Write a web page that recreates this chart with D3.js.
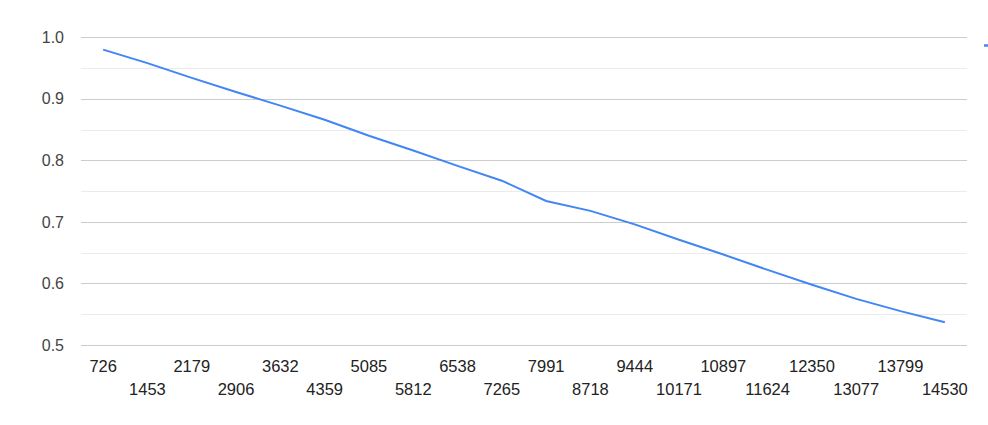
<!DOCTYPE html>
<html>
<head>
<meta charset="utf-8">
<script src="https://cdn.jsdelivr.net/npm/d3@7"></script>
<style>
html,body{margin:0;padding:0;background:#fff;}
svg{display:block;font-family:"Liberation Sans",Arial,sans-serif;}
</style>
</head>
<body>
<svg id="chart" width="988" height="425"></svg>
<script>
const categories = ["726","1453","2179","2906","3632","4359","5085","5812","6538","7265","7991","8718","9444","10171","10897","11624","12350","13077","13799","14530"];
const values = [0.980,0.958,0.934,0.911,0.889,0.866,0.840,0.816,0.791,0.767,0.734,0.718,0.696,0.671,0.647,0.622,0.598,0.575,0.555,0.537];
const yTicks = [0.5,0.6,0.7,0.8,0.9,1.0];
const yMinorTicks = [0.55,0.65,0.75,0.85,0.95];

const svg = d3.select("#chart");
const plotLeft = 81, plotRight = 967, plotTop = 37.3, plotBottom = 345;

const x = d3.scaleBand().domain(categories).range([plotLeft, plotRight]);
const y = d3.scaleLinear().domain([0.5, 1.0]).range([plotBottom, plotTop]);

// minor gridlines
svg.append("g").selectAll("line").data(yMinorTicks).join("line")
  .attr("x1", plotLeft).attr("x2", plotRight)
  .attr("y1", d => Math.round(y(d)) + 0.5).attr("y2", d => Math.round(y(d)) + 0.5)
  .attr("stroke", "#ebebeb").attr("stroke-width", 1);

// major gridlines
svg.append("g").selectAll("line").data(yTicks).join("line")
  .attr("x1", plotLeft).attr("x2", plotRight)
  .attr("y1", d => Math.round(y(d)) + 0.5).attr("y2", d => Math.round(y(d)) + 0.5)
  .attr("stroke", "#cccccc").attr("stroke-width", 1);

// y labels
svg.append("g").selectAll("text").data(yTicks).join("text")
  .attr("x", 64).attr("y", d => y(d))
  .attr("dy", "0.35em")
  .attr("text-anchor", "end")
  .attr("font-size", 16).attr("fill", "#444")
  .text(d => d3.format(".1f")(d));

// x labels (alternating two rows)
svg.append("g").selectAll("text").data(categories).join("text")
  .attr("x", d => x(d) + x.bandwidth() / 2)
  .attr("y", (d, i) => i % 2 === 0 ? 372 : 395)
  .attr("text-anchor", "middle")
  .attr("font-size", 16.5).attr("fill", "#222")
  .text(d => d);

// line
const line = d3.line()
  .x((d, i) => x(categories[i]) + x.bandwidth() / 2)
  .y(d => y(d));
svg.append("path").datum(values)
  .attr("d", line)
  .attr("fill", "none")
  .attr("stroke", "#4285f4")
  .attr("stroke-width", 2);

// legend (truncated at right edge)
svg.append("line")
  .attr("x1", 984).attr("x2", 1000)
  .attr("y1", 45.5).attr("y2", 45.5)
  .attr("stroke", "#4285f4").attr("stroke-width", 2.5);
</script>
</body>
</html>
